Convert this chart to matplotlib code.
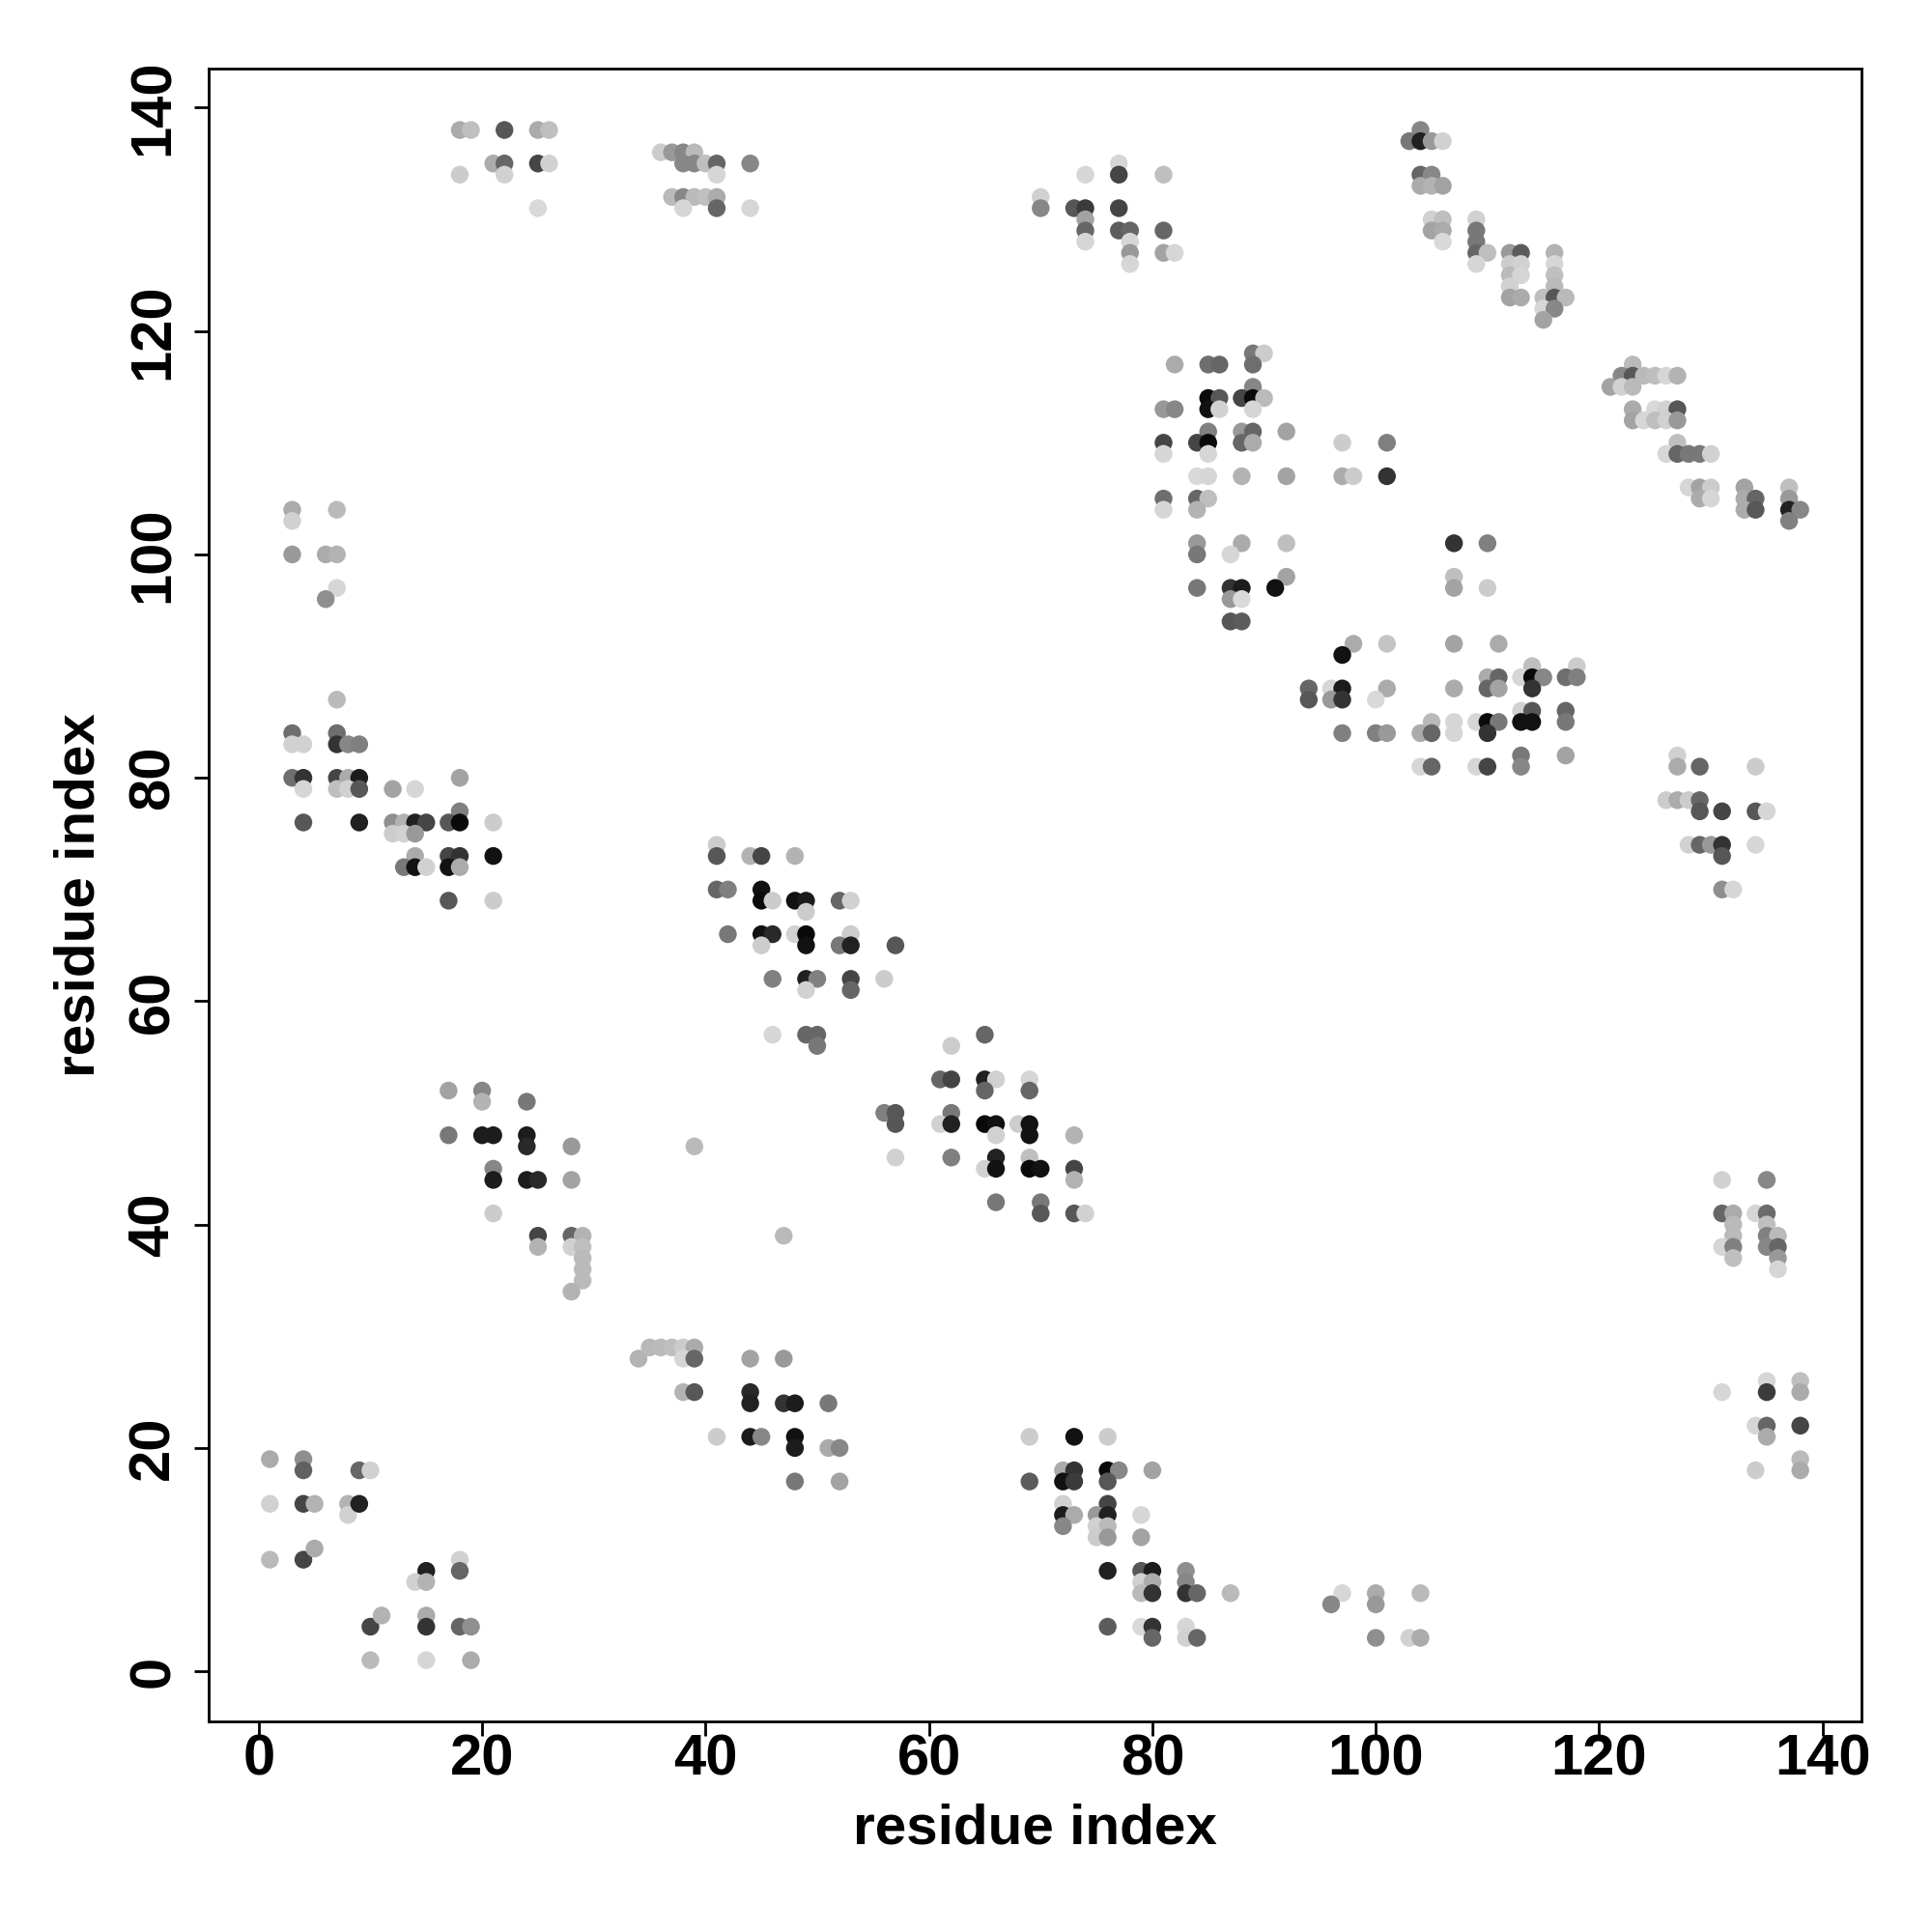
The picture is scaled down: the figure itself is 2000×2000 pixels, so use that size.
import numpy as np
import matplotlib
matplotlib.use("Agg")
from matplotlib import pyplot as plt

# contacts: (residue i, residue j, gray level of the dot)
near_origin = [
    (1, 19, .67), (4, 19, .56), (4, 18, .38), (9, 18, .4), (10, 18, .82),
    (1, 15, .82), (4, 15, .27), (5, 15, .7), (8, 15, .7), (8, 14, .82), (9, 15, .13),
    (1, 10, .73), (4, 10, .27), (5, 11, .67),
    (15, 9, .13), (14, 8, .82), (15, 8, .7), (18, 10, .82), (18, 9, .4),
    (10, 4, .27), (11, 5, .7), (15, 5, .67), (15, 4, .2), (18, 4, .4), (19, 4, .56),
    (10, 1, .73), (15, 1, .84), (19, 1, .67),
]

strand_b = [
    (34, 28, .7), (35, 29, .72), (36, 29, .73), (37, 29, .75), (38, 29, .8), (39, 29, .67),
    (38, 28, .84), (39, 28, .4), (38, 25, .7), (39, 25, .34), (44, 28, .64), (47, 28, .6),
    (44, 25, .16), (44, 24, .13), (47, 24, .2), (48, 24, .11), (51, 24, .47),
    (41, 21, .8), (44, 21, .11), (45, 21, .53), (48, 21, .07), (48, 20, .11),
    (51, 20, .67), (52, 20, .53), (48, 17, .47), (52, 17, .64),
]

strand_c = [
    (69, 21, .8), (73, 21, .07), (76, 21, .8),
    (72, 18, .67), (73, 18, .2), (76, 18, .04), (77, 18, .53), (80, 18, .64),
    (69, 17, .36), (72, 17, .07), (73, 17, .23), (76, 17, .34),
    (72, 15, .82), (76, 15, .27),
    (72, 14, .11), (73, 14, .67), (75, 14, .6), (76, 14, .13), (79, 14, .84),
    (72, 13, .53), (75, 13, .82), (76, 13, .73),
    (75, 12, .8), (76, 12, .6), (79, 12, .64),
    (76, 9, .13), (79, 9, .34), (80, 9, .11), (83, 9, .56),
    (79, 8, .82), (80, 8, .67), (83, 8, .53),
    (79, 7, .73), (80, 7, .2), (83, 7, .2), (84, 7, .4), (87, 7, .73),
    (76, 4, .36), (79, 4, .85), (80, 4, .2), (83, 4, .84),
    (80, 3, .4), (83, 3, .82), (84, 3, .4),
    (97, 7, .84), (96, 6, .53), (100, 7, .67), (100, 6, .6), (104, 7, .73),
    (100, 3, .56), (103, 3, .82), (104, 3, .67),
]

right_low = [
    (131, 44, .82), (135, 44, .53),
    (131, 41, .4), (132, 41, .67), (134, 41, .84), (135, 41, .42),
    (132, 40, .73), (135, 40, .75),
    (132, 39, .73), (135, 39, .5), (136, 39, .73),
    (131, 38, .84), (132, 38, .5), (135, 38, .53), (136, 38, .4),
    (132, 37, .75), (136, 37, .6), (136, 36, .84),
    (131, 25, .84), (135, 26, .84), (135, 25, .23), (138, 26, .75), (138, 25, .67),
    (134, 22, .84), (135, 22, .4), (138, 22, .27), (135, 21, .67),
    (138, 19, .73), (138, 18, .67), (134, 18, .8),
]

right_mid = [
    (127, 82, .82), (127, 81, .67), (129, 81, .4), (134, 81, .8),
    (126, 78, .8), (127, 78, .67), (128, 78, .8), (129, 78, .4),
    (129, 77, .34), (131, 77, .27), (134, 77, .34), (135, 77, .84),
    (128, 74, .82), (129, 74, .4), (130, 74, .6), (131, 74, .2), (134, 74, .84),
    (131, 73, .34), (131, 70, .56), (132, 70, .84),
]

block_f = [
    (17, 52, .64), (20, 52, .53), (20, 51, .7), (24, 51, .47),
    (17, 48, .47), (20, 48, .11), (21, 48, .11), (24, 48, .11), (24, 47, .16), (28, 47, .6),
    (21, 45, .53), (21, 44, .11), (24, 44, .11), (25, 44, .16), (28, 44, .64),
    (21, 41, .8),
    (25, 39, .27), (25, 38, .7), (28, 39, .4), (29, 39, .7), (28, 38, .82), (29, 38, .75),
    (29, 37, .73), (29, 36, .73), (29, 35, .73), (28, 34, .7),
    (39, 47, .73), (47, 39, .73),
]

block_g = [
    (65, 57, .4), (62, 56, .8),
    (61, 53, .4), (62, 53, .27), (65, 53, .13), (66, 53, .82), (69, 53, .84),
    (65, 52, .4), (69, 52, .4),
    (56, 50, .5), (57, 50, .34), (62, 50, .47),
    (57, 49, .34), (61, 49, .82), (62, 49, .13), (65, 49, .04), (66, 49, .07), (68, 49, .8), (69, 49, .07),
    (66, 48, .82), (69, 48, .07), (73, 48, .7),
    (57, 46, .82), (62, 46, .5), (66, 46, .13), (69, 46, .75),
    (65, 45, .82), (66, 45, .07), (69, 45, .04), (70, 45, .07), (73, 45, .27),
    (73, 44, .7),
    (66, 42, .47), (70, 42, .47),
    (70, 41, .34), (73, 41, .34), (74, 41, .82),
]

block_h = [
    (41, 74, .8), (41, 73, .34), (44, 73, .7), (45, 73, .27), (48, 73, .7),
    (41, 70, .4), (42, 70, .5), (45, 70, .07),
    (45, 69, .04), (46, 69, .8), (48, 69, .07), (49, 69, .11), (52, 69, .4), (53, 69, .82),
    (49, 68, .8),
    (42, 66, .47), (45, 66, .07), (46, 66, .16), (48, 66, .82), (49, 66, .04), (53, 66, .8),
    (45, 65, .8), (49, 65, .07), (52, 65, .47), (53, 65, .13), (57, 65, .34),
    (46, 62, .5), (49, 62, .13), (50, 62, .5), (53, 62, .27), (56, 62, .8),
    (49, 61, .82), (53, 61, .4),
    (46, 57, .84), (49, 57, .4), (50, 57, .4), (50, 56, .47),
]

left_mid = [
    (3, 104, .67), (3, 103, .82), (7, 104, .73),
    (3, 100, .6), (6, 100, .67), (7, 100, .7), (7, 97, .84), (6, 96, .56),
    (7, 87, .73),
    (3, 84, .43), (7, 84, .43),
    (3, 83, .82), (4, 83, .82), (7, 83, .2), (8, 83, .53), (9, 83, .5),
    (3, 80, .43), (4, 80, .2), (7, 80, .27), (8, 80, .67), (9, 80, .11), (18, 80, .64),
    (4, 79, .84), (7, 79, .75), (8, 79, .82), (9, 79, .34), (12, 79, .64), (14, 79, .84),
    (18, 77, .5),
    (4, 76, .34), (9, 76, .13), (12, 76, .56), (13, 76, .7), (14, 76, .13), (15, 76, .27),
    (17, 76, .34), (18, 76, .04), (21, 76, .8),
    (12, 75, .8), (13, 75, .82), (14, 75, .6),
    (14, 73, .67), (17, 73, .27), (18, 73, .2), (21, 73, .07),
    (13, 72, .47), (14, 72, .07), (15, 72, .82), (17, 72, .07), (18, 72, .67),
    (17, 69, .34), (21, 69, .8),
]

center_block = [
    (82, 117, .67), (85, 117, .43), (86, 117, .4), (89, 118, .47), (90, 118, .8), (89, 117, .43), (89, 115, .53),
    (85, 114, .04), (86, 114, .34), (88, 114, .27), (89, 114, .04), (90, 114, .73),
    (81, 113, .6), (82, 113, .53), (85, 113, .07), (86, 113, .82), (89, 113, .84),
    (85, 111, .5), (88, 111, .6), (89, 111, .4), (92, 111, .64),
    (81, 110, .27), (84, 110, .27), (85, 110, .04), (88, 110, .4), (89, 110, .67), (97, 110, .8), (101, 110, .5),
    (81, 109, .84), (85, 109, .84),
    (84, 107, .85), (85, 107, .84), (88, 107, .7), (92, 107, .64), (97, 107, .67), (98, 107, .8), (101, 107, .2),
    (81, 105, .43), (84, 105, .4), (85, 105, .75),
    (81, 104, .84), (84, 104, .7),
    (84, 101, .6), (88, 101, .67), (92, 101, .75), (107, 101, .2), (110, 101, .5),
    (84, 100, .47), (87, 100, .84),
    (92, 98, .64), (107, 98, .75),
    (84, 97, .47), (87, 97, .2), (88, 97, .11), (91, 97, .07), (107, 97, .64), (110, 97, .8),
    (87, 96, .6), (88, 96, .85),
    (87, 94, .34), (88, 94, .36),
    (98, 92, .67), (101, 92, .77), (107, 92, .64), (111, 92, .67),
    (97, 91, .07),
    (114, 90, .75), (118, 90, .8),
    (110, 89, .67), (111, 89, .4), (113, 89, .84), (114, 89, .04), (115, 89, .53), (117, 89, .43), (118, 89, .5),
    (94, 88, .4), (96, 88, .84), (97, 88, .11), (101, 88, .67), (107, 88, .67), (110, 88, .4), (111, 88, .64), (114, 88, .2),
    (94, 87, .34), (96, 87, .6), (97, 87, .2), (100, 87, .85),
    (113, 86, .82), (114, 86, .34), (117, 86, .4),
    (105, 85, .73), (107, 85, .84), (109, 85, .84), (110, 85, .04), (111, 85, .47), (113, 85, .07), (114, 85, .07), (117, 85, .47),
    (97, 84, .5), (100, 84, .5), (101, 84, .6), (104, 84, .67), (105, 84, .4), (107, 84, .84), (110, 84, .2),
    (113, 82, .47), (117, 82, .64),
    (104, 81, .84), (105, 81, .4), (109, 81, .84), (110, 81, .27), (113, 81, .53),
]

upper_right = [
    (104, 138, .53), (103, 137, .47), (104, 137, .13), (105, 137, .6), (106, 137, .82),
    (104, 134, .4), (105, 134, .53), (104, 133, .67), (105, 133, .7), (106, 133, .64),
    (105, 130, .82), (106, 130, .75), (109, 130, .82),
    (105, 129, .64), (106, 129, .67), (109, 129, .47),
    (106, 128, .85), (109, 128, .47),
    (109, 127, .4), (110, 127, .75), (112, 127, .6), (113, 127, .36), (116, 127, .7),
    (109, 126, .84), (112, 126, .8), (113, 126, .82), (116, 126, .84),
    (112, 125, .73), (113, 125, .84), (116, 125, .75),
    (112, 124, .82), (116, 124, .73),
    (112, 123, .64), (113, 123, .67), (115, 123, .75), (116, 123, .34), (117, 123, .73),
    (115, 122, .84), (116, 122, .53), (115, 121, .64),
    (123, 117, .73),
    (122, 116, .53), (123, 116, .34), (124, 116, .73), (125, 116, .75), (126, 116, .84), (127, 116, .7),
    (121, 115, .64), (122, 115, .82), (123, 115, .73),
    (123, 113, .67), (125, 113, .85), (126, 113, .82), (127, 113, .34),
    (123, 112, .64), (124, 112, .84), (125, 112, .75), (126, 112, .82), (127, 112, .6),
    (127, 110, .75),
    (126, 109, .84), (127, 109, .4), (128, 109, .47), (129, 109, .47), (130, 109, .82),
    (128, 106, .84), (129, 106, .64), (130, 106, .8), (133, 106, .64), (137, 106, .75),
    (129, 105, .67), (130, 105, .84), (133, 105, .67), (134, 105, .4), (137, 105, .6),
    (133, 104, .67), (134, 104, .34), (137, 104, .13), (138, 104, .53),
    (137, 103, .5),
]

top_row = [
    (18, 138, .67), (19, 138, .75), (22, 138, .34), (25, 138, .67), (26, 138, .75),
    (21, 135, .67), (22, 135, .4), (25, 135, .27), (26, 135, .82),
    (18, 134, .8), (22, 134, .82), (25, 131, .85),
    (36, 136, .8), (37, 136, .6), (38, 136, .53), (39, 136, .73),
    (38, 135, .53), (39, 135, .53), (40, 135, .75), (41, 135, .4), (44, 135, .53),
    (41, 134, .84),
    (37, 132, .73), (38, 132, .53), (39, 132, .73), (40, 132, .75), (41, 132, .67),
    (38, 131, .84), (41, 131, .4), (44, 131, .84),
    (77, 135, .84), (74, 134, .84), (77, 134, .27), (81, 134, .75),
    (70, 132, .82), (70, 131, .53), (73, 131, .34), (74, 131, .23), (77, 131, .27),
    (74, 130, .64),
    (74, 129, .4), (77, 129, .36), (78, 129, .4), (81, 129, .4),
    (74, 128, .84), (78, 128, .84),
    (78, 127, .6), (81, 127, .64), (82, 127, .84), (78, 126, .84),
]

ticks = [0, 20, 40, 60, 80, 100, 120, 140]

allpts = (near_origin + strand_b + strand_c + right_low + right_mid + block_f +
          block_g + block_h + left_mid + center_block + upper_right + top_row)
ri = np.array([p[0] for p in allpts])
rj = np.array([p[1] for p in allpts])
gray = np.array([p[2] for p in allpts])

plt.rcParams['font.family'] = ['Liberation Sans', 'DejaVu Sans']
plt.rcParams['font.weight'] = 'bold'

fig = plt.figure(figsize=(10, 10), dpi=200)
ax = fig.add_axes([0.108, 0.109, 0.8555, 0.8554])

cols = [(g, g, g) for g in gray]
ax.scatter(ri, rj, s=44, c=cols, linewidths=0)

lo = ri.min() - 0.04 * (ri.max() - ri.min())
hi = ri.max() + 0.04 * (ri.max() - ri.min())
ax.set_xlim(lo, hi)
ax.set_ylim(lo, hi)
ax.set_xticks(ticks)
ax.set_yticks(ticks)

for sp in ax.spines.values():
    sp.set_linewidth(1.0)
ax.tick_params(axis='x', length=5.5, width=1.0, labelsize=21.5, pad=-1)
ax.tick_params(axis='y', length=5.5, width=1.0, labelsize=21.5, pad=5)
for lab in ax.get_yticklabels():
    lab.set_rotation(90)
    lab.set_va('center')

ax.set_xlabel('residue index', fontsize=21, fontweight='bold', labelpad=6)
ax.set_ylabel('residue index', fontsize=21, fontweight='bold', labelpad=8)

fig.savefig('out.png', dpi=200)
